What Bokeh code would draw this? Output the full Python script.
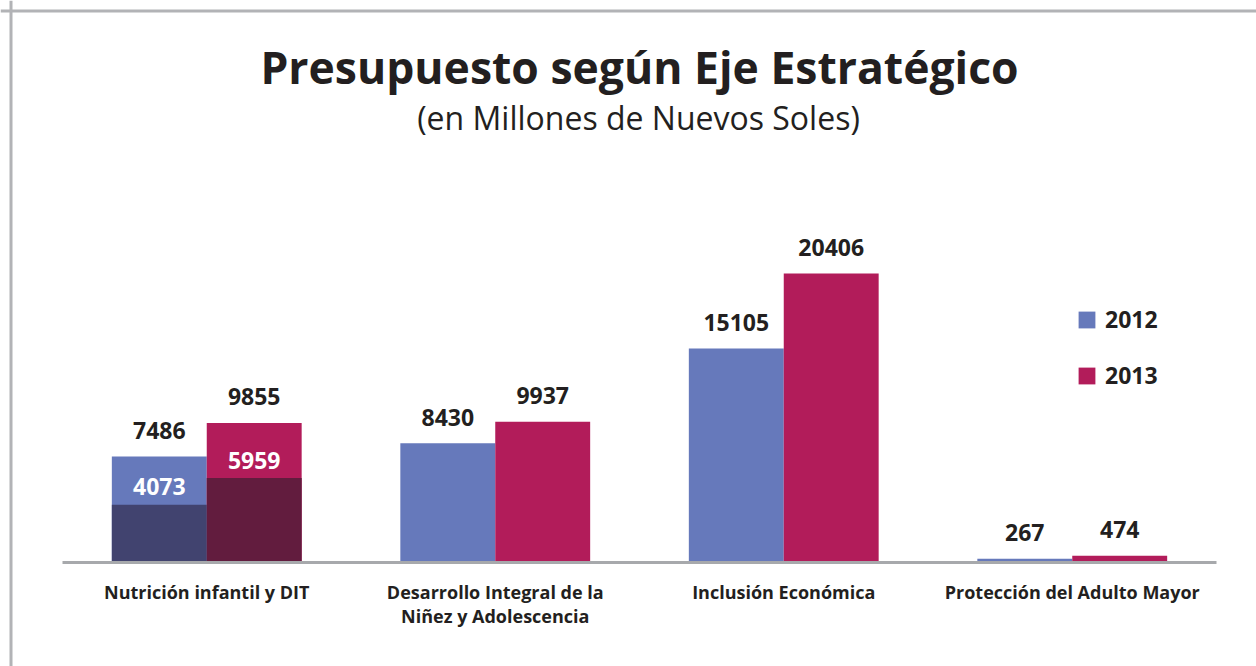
from bokeh.plotting import figure
from bokeh.models import ColumnDataSource, Range1d, Span, Legend, LegendItem
from bokeh.core.properties import value
from bokeh.embed import file_html
from bokeh.resources import INLINE

# ---------------- data ----------------
categories = [
    "Nutrición infantil y DIT",
    "Desarrollo Integral de la\nNiñez y Adolescencia",
    "Inclusión Económica",
    "Protección del Adulto Mayor",
]
years = ["2012", "2013"]
values_2012 = [7486, 8430, 15105, 267]
values_2013 = [9855, 9937, 20406, 474]
sub_2012 = [4073, None, None, None]
sub_2013 = [5959, None, None, None]

title_text = "Presupuesto según Eje Estratégico"
subtitle_text = "(en Millones de Nuevos Soles)"

# ---------------- styling / layout ----------------
BLUE = "#6679bb"
MAGENTA = "#b21c5a"
DARK_BLUE = "#41436f"
DARK_MAGENTA = "#621c3e"
TEXT = "#231f20"
GRAY = "#a7a9ac"
BORDER = "#b2b3b6"
FONT_NAME = "Open Sans"
FONT = value(FONT_NAME)

W, H = 1256, 666
PAGE = 0
BASE_L, BASE_R, BASE_Y = 62, 1216, 562
PX_PER_UNIT_Y = 0.01416
BAR_W = 0.329

n = len(categories)
px_per_cat = (BASE_R - BASE_L) / n
x_start = -(BASE_L - PAGE) / px_per_cat
x_end = x_start + W / px_per_cat
units_per_px = 1.0 / PX_PER_UNIT_Y
y_end = (BASE_Y - PAGE) * units_per_px
y_start = -(PAGE + H - BASE_Y) * units_per_px


def xd(px):
    return x_start + (px - PAGE) / px_per_cat


def yd(py):
    return y_end - (py - PAGE) * units_per_px


p = figure(
    width=W, height=H,
    x_range=Range1d(x_start, x_end), y_range=Range1d(y_start, y_end),
    output_backend="svg", toolbar_location=None,
    x_axis_location=None, y_axis_location=None,
    min_border=0, min_border_left=0, min_border_right=0,
    min_border_top=0, min_border_bottom=0,
    outline_line_color=None,
    background_fill_color="white", border_fill_color="white",
)
p.xgrid.visible = False
p.ygrid.visible = False

centers = [i + 0.5 for i in range(n)]
x12 = [c - BAR_W / 2 for c in centers]
x13 = [c + BAR_W / 2 for c in centers]

src12 = ColumnDataSource(dict(x=x12, top=values_2012, label=[str(v) for v in values_2012]))
src13 = ColumnDataSource(dict(x=x13, top=values_2013, label=[str(v) for v in values_2013]))

r12 = p.vbar(x="x", top="top", bottom=0, width=BAR_W, source=src12,
             fill_color=BLUE, line_color=None)
r13 = p.vbar(x="x", top="top", bottom=0, width=BAR_W, source=src13,
             fill_color=MAGENTA, line_color=None)

# inner (sub) portions
sx12 = [x for x, s in zip(x12, sub_2012) if s is not None]
sv12 = [s for s in sub_2012 if s is not None]
sx13 = [x for x, s in zip(x13, sub_2013) if s is not None]
sv13 = [s for s in sub_2013 if s is not None]
p.vbar(x=sx12, top=sv12, bottom=0, width=BAR_W, fill_color=DARK_BLUE, line_color=None)
p.vbar(x=sx13, top=sv13, bottom=0, width=BAR_W, fill_color=DARK_MAGENTA, line_color=None)

# baseline
p.segment(x0=[0], y0=[0], x1=[n], y1=[0], line_color=GRAY, line_width=3)

# value labels
for src in (src12, src13):
    p.text(x="x", y="top", text="label", source=src,
           text_align="center", text_baseline="alphabetic", y_offset=-26,
           text_font=FONT, text_font_style="bold", text_font_size="23px",
           text_color=TEXT)

# inner labels
p.text(x=sx12 + sx13, y=sv12 + sv13, text=[str(v) for v in sv12 + sv13],
       text_align="center", text_baseline="alphabetic", y_offset=-18,
       text_font=FONT, text_font_style="bold", text_font_size="23px",
       text_color="white")

# category labels (line by line)
lx, ltxt, loff = [], [], []
for c, cat in zip(centers, categories):
    for k, line in enumerate(cat.split("\n")):
        lx.append(c)
        ltxt.append(line)
        loff.append(29 + 24 * k)
p.text(x=lx, y=[0] * len(lx), text=ltxt, y_offset=loff,
       text_align="center", text_baseline="alphabetic",
       text_font=FONT, text_font_style="bold", text_font_size="18px",
       text_color=TEXT)

# title / subtitle
p.text(x=[xd(639)], y=[yd(66)], text=[title_text], text_align="center",
       text_baseline="alphabetic", text_font=FONT, text_font_style="bold",
       text_font_size="44.5px", text_color=TEXT)
p.text(x=[xd(638)], y=[yd(117)], text=[subtitle_text], text_align="center",
       text_baseline="alphabetic", text_font=FONT, text_font_style="normal",
       text_font_size="32px", text_color=TEXT)

# border (top & left)
p.add_layout(Span(location=xd(10.5), dimension="height", line_color=BORDER, line_width=3))
p.add_layout(Span(location=yd(10.5), dimension="width", line_color=BORDER, line_width=3))

# legend
legend = Legend(
    items=[LegendItem(label=years[0], renderers=[r12]),
           LegendItem(label=years[1], renderers=[r13])],
    location=(1076, 275),
    glyph_width=21, glyph_height=21, label_height=17,
    label_standoff=8, spacing=24, padding=0, margin=0,
    border_line_color=None, background_fill_alpha=0,
    label_text_font=FONT_NAME, label_text_font_style="bold",
    label_text_font_size="23px", label_text_color=TEXT,
)
p.add_layout(legend)

open("out.html", "w").write(file_html(p, INLINE))
